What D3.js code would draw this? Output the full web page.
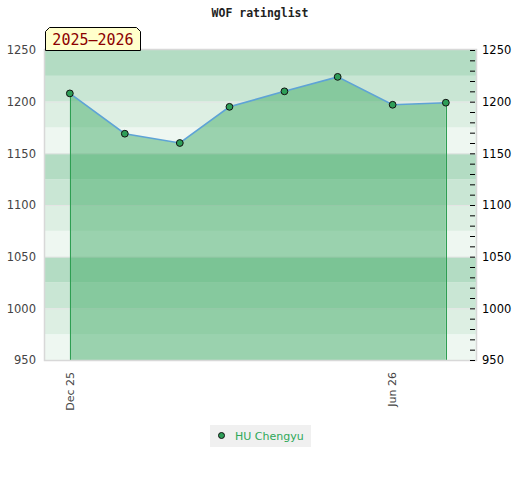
<!DOCTYPE html>
<html>
<head>
<meta charset="utf-8">
<script src="https://cdn.jsdelivr.net/npm/d3@7"></script>
<style>
  body { margin: 0; background: #fff; }
  svg text { font-family: "DejaVu Sans", sans-serif; }
</style>
</head>
<body>
<div id="chart"></div>
<script>
// data
const dates = ["2025-12-01", "2026-01-01", "2026-02-01", "2026-03-01", "2026-04-01", "2026-05-01", "2026-06-01", "2026-07-01"];
const ratings = [1208, 1169, 1160, 1195, 1210, 1224, 1197, 1199];
const seriesName = "HU Chengyu";
const seasonLabel = "2025\u20132026";
const xTickDates = ["2025-12-01", "2026-06-01"];
const yTicks = [950, 1000, 1050, 1100, 1150, 1200, 1250];

// styling
const W = 520, H = 480;
const plot = { left: 45, right: 476, top: 50, bottom: 360 };
const bandColors = ["#eef7f1", "#ddefe3", "#c9e6d4", "#b3dcc3"];

const parse = d3.timeParse("%Y-%m-%d");
const points = dates.map((d, i) => ({ date: parse(d), value: ratings[i] }));

const svg = d3.select("#chart").append("svg")
  .attr("width", W)
  .attr("height", H);

const x = d3.scaleTime()
  .domain([parse("2025-11-17"), parse("2026-07-18")])
  .range([plot.left, plot.right]);

const y = d3.scaleLinear()
  .domain([950, 1250])
  .range([plot.bottom, plot.top]);

// background bands, 25 points each, pattern repeats every 100
const bands = d3.range(950, 1250, 25);
svg.append("g").selectAll("rect")
  .data(bands)
  .join("rect")
  .attr("x", plot.left)
  .attr("width", plot.right - plot.left)
  .attr("y", d => y(d + 25))
  .attr("height", d => y(d) - y(d + 25))
  .attr("fill", d => bandColors[((d - 950) / 25) % 4]);

// faint grid at each 50
svg.append("g").selectAll("line")
  .data(yTicks.slice(1, -1))
  .join("line")
  .attr("x1", plot.left).attr("x2", plot.right)
  .attr("y1", d => y(d) + 0.5).attr("y2", d => y(d) + 0.5)
  .attr("stroke", "#e4e4e4")
  .attr("stroke-width", 1);

// area under the line
const area = d3.area()
  .x(d => x(d.date))
  .y0(plot.bottom)
  .y1(d => y(d.value));

svg.append("path")
  .datum(points)
  .attr("d", area)
  .attr("fill", "rgb(61,169,100)")
  .attr("fill-opacity", 0.475);

// edge lines of the area
const first = points[0], last = points[points.length - 1];
svg.append("g").selectAll("line")
  .data([first, last])
  .join("line")
  .attr("x1", d => Math.round(x(d.date)) + 0.5)
  .attr("x2", d => Math.round(x(d.date)) + 0.5)
  .attr("y1", d => y(d.value))
  .attr("y2", plot.bottom)
  .attr("stroke", "#2e9e52")
  .attr("stroke-width", 1);

// plot frame
svg.append("rect")
  .attr("x", plot.left - 0.5)
  .attr("y", plot.top - 0.5)
  .attr("width", plot.right - plot.left + 1)
  .attr("height", plot.bottom - plot.top + 1)
  .attr("fill", "none")
  .attr("stroke", "#d8d8d8")
  .attr("stroke-width", 1.5);

// line
const line = d3.line()
  .x(d => x(d.date))
  .y(d => y(d.value));

svg.append("path")
  .datum(points)
  .attr("d", line)
  .attr("fill", "none")
  .attr("stroke", "#5ea3d6")
  .attr("stroke-width", 1.6);

// markers
svg.append("g").selectAll("circle")
  .data(points)
  .join("circle")
  .attr("cx", d => x(d.date))
  .attr("cy", d => y(d.value))
  .attr("r", 3.4)
  .attr("fill", "#2e9e58")
  .attr("stroke", "#111")
  .attr("stroke-width", 1);

// left axis
const leftAxis = svg.append("g")
  .attr("transform", `translate(${plot.left},0)`)
  .call(d3.axisLeft(y).tickValues(yTicks).tickFormat(d3.format("d")).tickSize(0).tickPadding(9));
leftAxis.select(".domain").remove();
leftAxis.selectAll("text")
  .attr("font-size", 11.5)
  .attr("fill", "#444")
  .style("font-family", "DejaVu Sans, sans-serif");

// right axis with minor ticks every 10
const rightAxis = svg.append("g")
  .attr("transform", `translate(${plot.right - 1},0)`);
rightAxis.call(d3.axisLeft(y).tickValues(d3.range(950, 1251, 10)).tickSize(5).tickFormat(""));
rightAxis.select(".domain").remove();
rightAxis.selectAll("line").attr("stroke", "#000");
svg.append("g")
  .attr("transform", `translate(${plot.right},0)`)
  .call(d3.axisRight(y).tickValues(yTicks).tickFormat(d3.format("d")).tickSize(0).tickPadding(6))
  .call(g => g.select(".domain").remove())
  .selectAll("text")
  .attr("font-size", 11.5)
  .attr("fill", "#000")
  .style("font-family", "DejaVu Sans, sans-serif");

// x labels, rotated
svg.append("g").selectAll("text")
  .data(xTickDates.map(parse))
  .join("text")
  .attr("transform", d => `translate(${x(d)},${plot.bottom + 12}) rotate(-90)`)
  .attr("text-anchor", "end")
  .attr("dy", "0.35em")
  .attr("font-size", 11)
  .attr("fill", "#444")
  .text(d3.timeFormat("%b %y"));

// title
svg.append("text")
  .attr("x", 260)
  .attr("y", 17)
  .attr("text-anchor", "middle")
  .attr("font-size", 11.5)
  .attr("font-weight", "bold")
  .style("font-family", "DejaVu Sans Mono, monospace")
  .attr("fill", "#222")
  .text("WOF ratinglist");

// season badge
const bx0 = 45.5, bx1 = 140.5, by0 = 27.5, by1 = 50.5, c = 4;
svg.append("path")
  .attr("d", `M${bx0},${by1} L${bx0},${by0 + c} L${bx0 + c},${by0} L${bx1 - c},${by0} L${bx1},${by0 + c} L${bx1},${by1} Z`)
  .attr("fill", "#ffffcc")
  .attr("stroke", "#000")
  .attr("stroke-width", 1);
svg.append("text")
  .attr("x", (bx0 + bx1) / 2)
  .attr("y", 45)
  .attr("text-anchor", "middle")
  .attr("font-size", 15)
  .style("font-family", "DejaVu Sans Mono, monospace")
  .attr("fill", "#8b0000")
  .text(seasonLabel);

// legend
const legend = svg.append("g").attr("transform", "translate(210,425)");
legend.append("rect")
  .attr("width", 101)
  .attr("height", 22)
  .attr("fill", "#f0f0f0");
legend.append("circle")
  .attr("cx", 11.5)
  .attr("cy", 10.5)
  .attr("r", 3)
  .attr("fill", "#2e9e58")
  .attr("stroke", "#111")
  .attr("stroke-width", 1);
legend.append("text")
  .attr("x", 25)
  .attr("y", 15)
  .attr("font-size", 11)
  .attr("fill", "#2ea858")
  .text(seriesName);
</script>
</body>
</html>
